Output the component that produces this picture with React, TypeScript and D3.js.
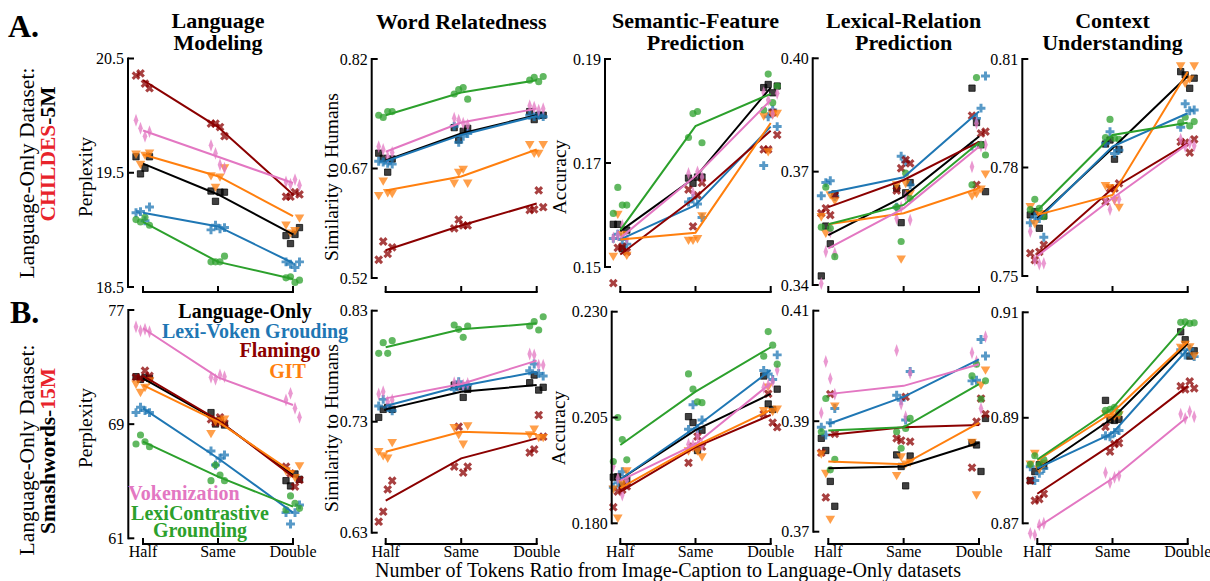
import * as d3 from "d3";

// ---- data -------------------------------------------------------------
const CONDITIONS = ["Half", "Same", "Double"];
const MODELS = [
  "Language-Only",
  "Lexi-Voken Grouding",
  "Flamingo",
  "GIT",
  "Vokenization",
  "LexiContrastive Grounding",
];
const TASK_TITLES = [
  ["Language", "Modeling"],
  ["Word Relatedness"],
  ["Semantic-Feature", "Prediction"],
  ["Lexical-Relation", "Prediction"],
  ["Context", "Understanding"],
];
const Y_LABELS = ["Perplexity", "Similarity to Humans", "Accuracy", "", ""];
const X_TITLE = "Number of Tokens Ratio from Image-Caption to Language-Only datasets";

const TICKS_A = [
  [18.5, 19.5, 20.5],
  [0.52, 0.67, 0.82],
  [0.15, 0.17, 0.19],
  [0.34, 0.37, 0.4],
  [0.75, 0.78, 0.81],
];
const TICKS_B = [
  [61, 69, 77],
  [0.63, 0.73, 0.83],
  [0.18, 0.205, 0.23],
  [0.37, 0.39, 0.41],
  [0.87, 0.89, 0.91],
];
const TICK_DIGITS_A = [1, 2, 2, 2, 2];
const TICK_DIGITS_B = [0, 2, 3, 2, 2];

// model order: Language-Only, Lexi-Voken, Flamingo, GIT, Vokenization, LexiContrastive
// Row A: CHILDES-5M
const A_LM_MEAN = [
  [19.58, 19.31, 18.96],
  [19.15, 19.03, 18.71],
  [20.31, 19.9, 19.31],
  [19.66, 19.47, 19.12],
  [19.87, 19.64, 19.41],
  [19.07, 18.72, 18.57],
];
const A_LM_SEEDS = [
  [[19.64, 19.49, 19.54, 19.64], [19.34, 19.25, 19.33, 19.33], [18.95, 18.88, 18.96, 19.02]],
  [[19.16, 19.08, 19.2, 19.15], [19.04, 19.01, 19.02, 19.0], [18.7, 18.67, 18.72, 18.72]],
  [[20.28, 20.24, 20.35, 20.37], [19.9, 19.82, 19.93, 19.93], [19.33, 19.31, 19.29, 19.29]],
  [[19.68, 19.67, 19.58, 19.66], [19.55, 19.48, 19.38, 19.47], [19.11, 19.05, 18.98, 19.0]],
  [[19.96, 19.89, 19.82, 19.86], [19.74, 19.67, 19.57, 19.54], [19.42, 19.4, 19.44, 19.39]],
  [[19.07, 19.11, 19.04, 19.09], [18.72, 18.72, 18.77, 18.72], [18.59, 18.54, 18.56, 18.58]],
];
const A_WR_MEAN = [
  [0.681, 0.718, 0.743],
  [0.68, 0.716, 0.742],
  [0.558, 0.592, 0.622],
  [0.64, 0.659, 0.696],
  [0.693, 0.733, 0.752],
  [0.743, 0.774, 0.791],
];
const A_WR_SEEDS = [
  [[0.691, 0.684, 0.665, 0.683], [0.726, 0.709, 0.721, 0.725], [0.748, 0.737, 0.743, 0.743]],
  [[0.679, 0.677, 0.676, 0.68], [0.706, 0.714, 0.718, 0.728], [0.741, 0.743, 0.741, 0.743]],
  [[0.553, 0.562, 0.545, 0.57], [0.592, 0.592, 0.588, 0.6], [0.64, 0.617, 0.613, 0.614]],
  [[0.637, 0.634, 0.654, 0.638], [0.651, 0.651, 0.666, 0.67], [0.704, 0.704, 0.692, 0.692]],
  [[0.7, 0.696, 0.686, 0.692], [0.739, 0.736, 0.732, 0.73], [0.756, 0.754, 0.75, 0.752]],
  [[0.74, 0.748, 0.748, 0.743], [0.778, 0.781, 0.765, 0.772], [0.795, 0.789, 0.796, 0.791]],
];
const A_SF_MEAN = [
  [0.1569, 0.1673, 0.1845],
  [0.1553, 0.1619, 0.177],
  [0.1524, 0.1634, 0.1762],
  [0.1553, 0.1566, 0.1777],
  [0.1556, 0.1675, 0.1821],
  [0.1571, 0.1771, 0.1833],
];
const A_SF_SEEDS = [
  [[0.1582, 0.1582, 0.1535, 0.1571], [0.1671, 0.1661, 0.1673, 0.1673], [0.1845, 0.1851, 0.1835, 0.1848]],
  [[0.1563, 0.1553, 0.1544, 0.1555], [0.1632, 0.1621, 0.1595, 0.1625], [0.1789, 0.1802, 0.177, 0.1695]],
  [[0.1539, 0.1529, 0.1469, 0.1537], [0.1638, 0.1662, 0.1649, 0.1578], [0.1797, 0.1754, 0.1726, 0.1726]],
  [[0.1524, 0.1522, 0.1603, 0.1564], [0.16, 0.1553, 0.1553, 0.1556], [0.1797, 0.1792, 0.1723, 0.1795]],
  [[0.1556, 0.1561, 0.158, 0.1555], [0.168, 0.1643, 0.1683, 0.1673], [0.1835, 0.1821, 0.1795, 0.1834]],
  [[0.1653, 0.1619, 0.1619, 0.1603], [0.1795, 0.1799, 0.1739, 0.1749], [0.1871, 0.1816, 0.1848, 0.1802]],
];
const A_LR_MEAN = [
  [0.3532, 0.3634, 0.3793],
  [0.3644, 0.3685, 0.3859],
  [0.3606, 0.3678, 0.3779],
  [0.3561, 0.359, 0.3656],
  [0.3497, 0.3603, 0.3766],
  [0.3561, 0.3612, 0.3777],
];
const A_LR_SEEDS = [
  [[0.3424, 0.3556, 0.3509, 0.3641], [0.3656, 0.3565, 0.3644, 0.3671], [0.3921, 0.383, 0.3771, 0.3647]],
  [[0.3671, 0.3676, 0.3634, 0.3636], [0.3741, 0.3726, 0.3665, 0.3606], [0.3841, 0.3868, 0.3953, 0.3768]],
  [[0.3585, 0.3638, 0.359, 0.3603], [0.3731, 0.3722, 0.365, 0.3709], [0.3801, 0.3806, 0.3848, 0.3665]],
  [[0.3625, 0.3583, 0.3539, 0.3641], [0.3644, 0.3667, 0.3471, 0.3671], [0.3696, 0.3638, 0.3644, 0.3656]],
  [[0.3404, 0.3488, 0.3541, 0.3484], [0.3576, 0.3606, 0.3634, 0.3572], [0.3713, 0.3828, 0.3768, 0.3771]],
  [[0.3659, 0.355, 0.3475, 0.3553], [0.3515, 0.3696, 0.3629, 0.3606], [0.3949, 0.3771, 0.3744, 0.3665]],
];
const A_CU_MEAN = [
  [0.7659, 0.7853, 0.8053],
  [0.7655, 0.7858, 0.795],
  [0.7558, 0.7742, 0.7867],
  [0.7669, 0.7724, 0.8065],
  [0.7555, 0.7715, 0.7865],
  [0.7681, 0.789, 0.7924],
];
const A_CU_SEEDS = [
  [[0.7669, 0.7678, 0.7632, 0.7666], [0.7865, 0.7876, 0.7823, 0.785], [0.8065, 0.8056, 0.8019, 0.8047]],
  [[0.7664, 0.7659, 0.7607, 0.7647], [0.7899, 0.7839, 0.7848, 0.7867], [0.7976, 0.7957, 0.7959, 0.7911]],
  [[0.7567, 0.7586, 0.7563, 0.7544], [0.7742, 0.7756, 0.7706, 0.7742], [0.7841, 0.7878, 0.7871, 0.7869]],
  [[0.7675, 0.7694, 0.7647, 0.7673], [0.7692, 0.7752, 0.7747, 0.7712], [0.8083, 0.8083, 0.8035, 0.8047]],
  [[0.7623, 0.7544, 0.7533, 0.7535], [0.7713, 0.7684, 0.7712, 0.7712], [0.7878, 0.7858, 0.7867, 0.786]],
  [[0.7712, 0.7687, 0.7664, 0.7684], [0.7933, 0.7881, 0.7878, 0.7883], [0.7939, 0.7915, 0.7927, 0.7924]],
];

// Row B: Smashwords-15M
const B_LM_MEAN = [
  [72.21, 69.25, 65.44],
  [70.11, 66.61, 62.8],
  [72.38, 69.29, 65.32],
  [71.74, 69.18, 65.6],
  [75.72, 72.28, 70.34],
  [67.77, 65.32, 63.22],
];
const B_LM_SEEDS = [
  [[72.33, 72.14, 72.28, 72.21], [69.81, 69.01, 69.29, 68.94], [65.04, 64.67, 65.51, 65.13]],
  [[70.18, 69.95, 69.81, 69.81], [66.14, 66.61, 66.84, 67.12], [62.0, 62.8, 63.34, 62.8]],
  [[72.75, 72.38, 72.28, 72.21], [69.48, 69.06, 69.34, 69.11], [64.62, 65.09, 66.02, 65.55]],
  [[72.09, 71.86, 71.28, 71.63], [69.41, 68.4, 69.25, 69.29], [66.14, 65.79, 65.6, 65.32]],
  [[75.83, 75.55, 75.65, 75.48], [72.28, 72.14, 72.45, 72.33], [70.69, 71.16, 70.11, 69.48]],
  [[68.24, 67.77, 67.42, 67.61], [66.14, 65.44, 65.04, 65.04], [63.97, 63.45, 63.1, 62.99]],
];
const B_WR_MEAN = [
  [0.7411, 0.757, 0.763],
  [0.7441, 0.7621, 0.775],
  [0.6588, 0.697, 0.715],
  [0.703, 0.721, 0.7189],
  [0.751, 0.7639, 0.785],
  [0.797, 0.8132, 0.8186],
];
const B_WR_SEEDS = [
  [[0.7339, 0.7411, 0.7429, 0.7411], [0.763, 0.7615, 0.7519, 0.7591], [0.7651, 0.772, 0.7585, 0.761]],
  [[0.7501, 0.7429, 0.7399, 0.7441], [0.766, 0.7615, 0.763, 0.7591], [0.782, 0.7735, 0.7711, 0.7759]],
  [[0.669, 0.6768, 0.6399, 0.6489], [0.6841, 0.6895, 0.6895, 0.7255], [0.736, 0.7165, 0.7021, 0.7051]],
  [[0.712, 0.7039, 0.7, 0.6979], [0.727, 0.7255, 0.7189, 0.7105], [0.7165, 0.7189, 0.724, 0.7165]],
  [[0.7549, 0.757, 0.748, 0.7495], [0.7651, 0.7639, 0.763, 0.7645], [0.791, 0.7901, 0.781, 0.781]],
  [[0.8012, 0.7916, 0.803, 0.7916], [0.8132, 0.806, 0.8162, 0.8171], [0.8201, 0.8126, 0.8246, 0.8162]],
];
const B_SF_MEAN = [
  [0.1904, 0.202, 0.2106],
  [0.1904, 0.2027, 0.2162],
  [0.1875, 0.198, 0.2056],
  [0.1883, 0.1983, 0.2068],
  [0.1901, 0.1987, 0.2131],
  [0.1985, 0.2111, 0.2216],
];
const B_SF_SEEDS = [
  [[0.1909, 0.191, 0.1888, 0.1904], [0.2052, 0.2038, 0.1972, 0.202], [0.2148, 0.2082, 0.2069, 0.2117]],
  [[0.1896, 0.1922, 0.1891, 0.1885], [0.208, 0.2024, 0.2044, 0.2022], [0.2153, 0.214, 0.2198, 0.2161]],
  [[0.1879, 0.1887, 0.1838, 0.1875], [0.2005, 0.1981, 0.1943, 0.1981], [0.2038, 0.2027, 0.2058, 0.2106]],
  [[0.1926, 0.1883, 0.1814, 0.1896], [0.1959, 0.1973, 0.1981, 0.1973], [0.2072, 0.2068, 0.2124, 0.2066]],
  [[0.1935, 0.1906, 0.1867, 0.1902], [0.1987, 0.1985, 0.2006, 0.1985], [0.2121, 0.2127, 0.2135, 0.2162]],
  [[0.205, 0.1998, 0.195, 0.1946], [0.2117, 0.2087, 0.2085, 0.2153], [0.2253, 0.2221, 0.2176, 0.2195]],
];
const B_LR_MEAN = [
  [0.3815, 0.3818, 0.3861],
  [0.3895, 0.3944, 0.4012],
  [0.3875, 0.3889, 0.3893],
  [0.3827, 0.3822, 0.3897],
  [0.3949, 0.3964, 0.4003],
  [0.3883, 0.3889, 0.3967],
];
const B_LR_SEEDS = [
  [[0.3869, 0.3847, 0.3791, 0.3746], [0.3839, 0.3818, 0.3783, 0.3837], [0.3861, 0.3857, 0.3809, 0.3905]],
  [[0.3875, 0.3897, 0.3923, 0.3889], [0.3938, 0.3902, 0.399, 0.3947], [0.3974, 0.4048, 0.4018, 0.3973]],
  [[0.3949, 0.3877, 0.3843, 0.3762], [0.3944, 0.3863, 0.3869, 0.3865], [0.3941, 0.3913, 0.3816, 0.3899]],
  [[0.3929, 0.3842, 0.3807, 0.3724], [0.3827, 0.3803, 0.3837, 0.3824], [0.3994, 0.3863, 0.3768, 0.3967]],
  [[0.3915, 0.4008, 0.3977, 0.3949], [0.4028, 0.3931, 0.3908, 0.3987], [0.4024, 0.4008, 0.3923, 0.4053]],
  [[0.3941, 0.3812, 0.3831, 0.3881], [0.3851, 0.3887, 0.3905, 0.3881], [0.4003, 0.394, 0.3973, 0.3982]],
];
const B_CU_MEAN = [
  [0.8802, 0.8899, 0.9041],
  [0.8804, 0.8871, 0.903],
  [0.8756, 0.885, 0.896],
  [0.8819, 0.891, 0.9044],
  [0.8692, 0.8785, 0.8902],
  [0.8821, 0.8918, 0.9081],
];
const B_CU_SEEDS = [
  [[0.8781, 0.8798, 0.8811, 0.8809], [0.8933, 0.8896, 0.8895, 0.8897], [0.9063, 0.9048, 0.9017, 0.9027]],
  [[0.8781, 0.8795, 0.8804, 0.8807], [0.8864, 0.8872, 0.8876, 0.8866], [0.9019, 0.903, 0.9016, 0.9029]],
  [[0.8746, 0.8756, 0.8781, 0.8743], [0.885, 0.8852, 0.8883, 0.8836], [0.8969, 0.8956, 0.896, 0.8954]],
  [[0.8815, 0.8814, 0.8834, 0.8804], [0.8907, 0.8909, 0.8902, 0.8905], [0.9019, 0.9035, 0.9041, 0.9036]],
  [[0.8681, 0.8678, 0.8697, 0.87], [0.8796, 0.8777, 0.8787, 0.879], [0.8907, 0.8899, 0.8912, 0.8902]],
  [[0.8828, 0.8811, 0.8821, 0.8812], [0.8916, 0.892, 0.891, 0.8914], [0.9082, 0.9079, 0.908, 0.9081]],
];

const ROWS = [
  {
    means: [A_LM_MEAN, A_WR_MEAN, A_SF_MEAN, A_LR_MEAN, A_CU_MEAN],
    seeds: [A_LM_SEEDS, A_WR_SEEDS, A_SF_SEEDS, A_LR_SEEDS, A_CU_SEEDS],
    ticks: TICKS_A,
    digits: TICK_DIGITS_A,
  },
  {
    means: [B_LM_MEAN, B_WR_MEAN, B_SF_MEAN, B_LR_MEAN, B_CU_MEAN],
    seeds: [B_LM_SEEDS, B_WR_SEEDS, B_SF_SEEDS, B_LR_SEEDS, B_CU_SEEDS],
    ticks: TICKS_B,
    digits: TICK_DIGITS_B,
  },
];

// ---- layout / style ---------------------------------------------------
const W = 1210;
const H = 581;
const SERIF = "Liberation Serif, Times New Roman, serif";
const COLORS = ["#000000", "#1f77b4", "#8b0000", "#ff7f0e", "#e377c2", "#2ca02c"];
const RED = "#e8232b";

const HALF_X = [143, 385.7, 620.3, 828.3, 1037.3];
const DOUBLE_X = [293, 536.7, 770.7, 979, 1187.7];
const SPINE_X = [
  [128, 371.7, 605, 812.7, 1022.3],
  [128.3, 371.7, 611.7, 813.3, 1022.7],
];
// pixel y of [lowest tick, highest tick]
const TICK_PX = [
  [[287, 58.5], [278, 59], [267, 59], [285, 58.3], [276, 59]],
  [[538.3, 310], [532.7, 310.7], [523.3, 311.7], [531.7, 310.7], [523.3, 312.3]],
];
const BRACKET_Y = [292, 544];
const YLABEL_CY = [177, 428];
const YLABEL_X = [
  [92, 338, 566],
  [92, 338, 565],
];
const JITTER = [-7, -2.5, 2, 6.5];

const symbolFor = (m: number) => {
  const gen = d3.symbol();
  switch (m) {
    case 0:
      return { d: gen.type(d3.symbolSquare).size(40)()!, t: "" };
    case 1:
      return { d: gen.type(d3.symbolCross).size(44)()!, t: "" };
    case 2:
      return { d: gen.type(d3.symbolCross).size(48)()!, t: " rotate(45)" };
    case 3:
      return { d: gen.type(d3.symbolTriangle).size(40)()!, t: " rotate(180)" };
    case 4:
      return { d: gen.type(d3.symbolDiamond).size(48)()!, t: " scale(0.62,1)" };
    default:
      return { d: gen.type(d3.symbolCircle).size(40)()!, t: "" };
  }
};

const Panel = ({ r, c }: { r: number; c: number }) => {
  const row = ROWS[r];
  const ticks = row.ticks[c];
  const means = row.means[c];
  const seeds = row.seeds[c];
  const [yb, yt] = TICK_PX[r][c];
  const y = d3.scaleLinear().domain([ticks[0], ticks[2]]).range([yb, yt]);
  const x = d3.scaleLinear().domain([0, 2]).range([HALF_X[c], DOUBLE_X[c]]);
  const sx = SPINE_X[r][c];
  const by = BRACKET_Y[r];
  const fmt = d3.format(`.${row.digits[c]}f`);
  const line = d3
    .line<number>()
    .x((_, i) => x(i))
    .y((v) => y(v));

  return (
    <g>
      {/* seed points */}
      {seeds.map((groups, m) => {
        const sym = symbolFor(m);
        return groups.map((vals, i) =>
          vals.map((v, k) => (
            <path
              key={`p${m}-${i}-${k}`}
              d={sym.d}
              transform={`translate(${x(i) + JITTER[(k + m) % 4]},${y(v)})${sym.t}`}
              fill={COLORS[m]}
              fillOpacity={0.75}
              stroke={COLORS[m]}
              strokeOpacity={m === 0 ? 0.9 : 0}
              strokeWidth={0.8}
            />
          ))
        );
      })}
      {/* mean lines */}
      {means.map((vals, m) => (
        <path key={`l${m}`} d={line(vals)!} fill="none" stroke={COLORS[m]} strokeWidth={2} />
      ))}
      {/* y spine + ticks */}
      <line x1={sx} x2={sx} y1={yb + 1} y2={yt - 1} stroke="#000" strokeWidth={2} />
      {ticks.map((t) => (
        <g key={`yt${t}`}>
          <line x1={sx} x2={sx + 6} y1={y(t)} y2={y(t)} stroke="#000" strokeWidth={2} />
          <text
            x={sx - 4}
            y={y(t)}
            dy="0.35em"
            textAnchor="end"
            fontFamily={SERIF}
            fontSize={16}
          >
            {fmt(t)}
          </text>
        </g>
      ))}
      {/* x bracket */}
      <line x1={x(0) - 1} x2={x(2) + 1} y1={by} y2={by} stroke="#000" strokeWidth={2} />
      {CONDITIONS.map((cName, i) => (
        <g key={cName}>
          <line x1={x(i)} x2={x(i)} y1={by} y2={by - 6} stroke="#000" strokeWidth={2} />
          {r === 1 && (
            <text x={x(i)} y={557} textAnchor="middle" fontFamily={SERIF} fontSize={16}>
              {cName}
            </text>
          )}
        </g>
      ))}
      {/* y label */}
      {Y_LABELS[c] && (
        <text
          transform={`translate(${YLABEL_X[r][c]},${YLABEL_CY[r]}) rotate(-90)`}
          textAnchor="middle"
          fontFamily={SERIF}
          fontSize={19.5}
        >
          {Y_LABELS[c]}
        </text>
      )}
    </g>
  );
};

const LEGEND = [
  { m: 0, lines: ["Language-Only"], cx: 245, y: 318 },
  { m: 1, lines: ["Lexi-Voken Grouding"], cx: 255, y: 338 },
  { m: 2, lines: ["Flamingo"], cx: 280, y: 357 },
  { m: 3, lines: ["GIT"], cx: 287.5, y: 378 },
  { m: 4, lines: ["Vokenization"], cx: 184, y: 500 },
  { m: 5, lines: ["LexiContrastive", "Grounding"], cx: 200, y: 520 },
];

export default function App() {
  return (
    <svg
      width={W}
      height={H}
      style={{ position: "absolute", left: 0, top: 0, background: "#fff" }}
    >
      {/* panel letters */}
      <text x={8} y={37} fontFamily={SERIF} fontWeight="bold" fontSize={32}>
        A.
      </text>
      <text x={10} y={323} fontFamily={SERIF} fontWeight="bold" fontSize={32}>
        B.
      </text>

      {/* row labels */}
      <text
        transform="translate(34,173) rotate(-90)"
        textAnchor="middle"
        fontFamily={SERIF}
        fontSize={21.5}
      >
        Language-Only Dataset:
      </text>
      <text
        transform="translate(55,154) rotate(-90)"
        textAnchor="middle"
        fontFamily={SERIF}
        fontWeight="bold"
        fontSize={21.5}
      >
        <tspan fill={RED}>CHILDES</tspan>
        <tspan fill="#000">-5M</tspan>
      </text>
      <text
        transform="translate(34,450) rotate(-90)"
        textAnchor="middle"
        fontFamily={SERIF}
        fontSize={21.5}
      >
        Language-Only Dataset:
      </text>
      <text
        transform="translate(55,451) rotate(-90)"
        textAnchor="middle"
        fontFamily={SERIF}
        fontWeight="bold"
        fontSize={21.5}
      >
        <tspan fill="#000">Smashwords-</tspan>
        <tspan fill={RED}>15M</tspan>
      </text>

      {/* column titles */}
      {TASK_TITLES.map((lines, c) => {
        const cx = (HALF_X[c] + DOUBLE_X[c]) / 2;
        return (
          <text
            key={`t${c}`}
            x={cx}
            y={lines.length === 1 ? 29 : 27.5}
            textAnchor="middle"
            fontFamily={SERIF}
            fontWeight="bold"
            fontSize={22}
          >
            {lines.map((ln, i) => (
              <tspan key={ln} x={cx} dy={i === 0 ? 0 : 22}>
                {ln}
              </tspan>
            ))}
          </text>
        );
      })}

      {ROWS.map((_, r) => TASK_TITLES.map((__, c) => <Panel key={`${r}-${c}`} r={r} c={c} />))}

      {/* legend text */}
      {LEGEND.map((l) => (
        <text
          key={MODELS[l.m]}
          x={l.cx}
          y={l.y}
          textAnchor="middle"
          fontFamily={SERIF}
          fontWeight="bold"
          fontSize={20}
          fill={COLORS[l.m]}
        >
          {l.lines.map((ln, i) => (
            <tspan key={ln} x={l.cx} dy={i === 0 ? 0 : 17}>
              {ln}
            </tspan>
          ))}
        </text>
      ))}

      {/* x title */}
      <text x={668} y={577} textAnchor="middle" fontFamily={SERIF} fontSize={20}>
        {X_TITLE}
      </text>
    </svg>
  );
}
